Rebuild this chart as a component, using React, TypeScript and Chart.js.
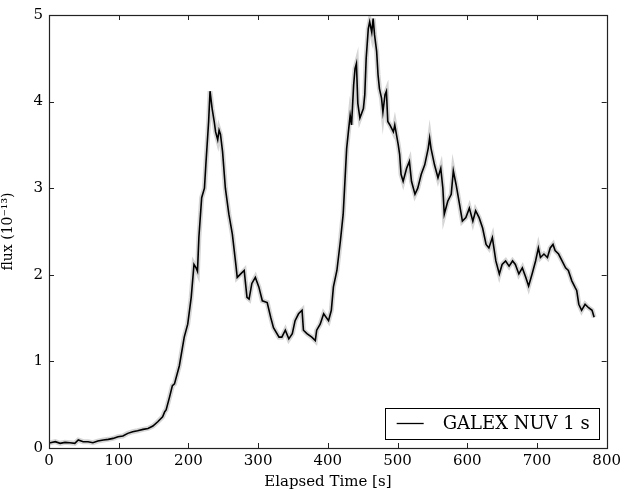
import React, { useEffect, useRef } from "react";
import { Chart, registerables } from "chart.js";

Chart.register(...registerables);

const times = [
  0, 2, 9, 16, 23, 30, 37, 42, 49, 56, 63, 70, 78, 85, 92, 99, 106, 113, 120, 127, 135, 142, 149, 156, 163, 166, 168,
  173, 177, 180, 187, 194, 199, 204, 208, 211, 213, 215, 219, 223, 225, 229, 231, 234, 237, 239, 242, 244, 246, 249,
  253, 258, 263, 268, 270, 275, 280, 284, 287, 291, 296, 301, 306, 313, 318, 322, 330, 334, 339, 344, 349, 353, 358,
  363, 365, 370, 377, 382, 384, 389, 394, 401, 405, 408, 413, 418, 422, 427, 430, 432, 434, 437, 439, 441, 443, 446,
  451, 453, 455, 458, 460, 463, 465, 467, 470, 472, 474, 477, 479, 482, 484, 486, 489, 494, 496, 501, 503, 505, 508,
  513, 517, 520, 525, 529, 534, 539, 544, 546, 548, 553, 558, 562, 565, 567, 572, 577, 580, 584, 589, 593, 598, 603,
  608, 612, 617, 622, 627, 631, 636, 641, 646, 650, 655, 660, 665, 669, 674, 679, 684, 688, 693, 698, 702, 705, 710,
  715, 719, 723, 726, 731, 736, 741, 745, 750, 755, 757, 760, 764, 769, 774, 779, 782,
];

const flux = [
  0.06, 0.061, 0.073, 0.054, 0.065, 0.061, 0.054, 0.092, 0.073, 0.073, 0.061, 0.08, 0.092, 0.1, 0.111, 0.13, 0.138,
  0.169, 0.188, 0.199, 0.215, 0.226, 0.253, 0.303, 0.36, 0.42, 0.44, 0.59, 0.72, 0.74, 0.95, 1.28, 1.43, 1.74, 2.12,
  2.08, 2.04, 2.43, 2.89, 3.0, 3.27, 3.77, 4.12, 3.92, 3.77, 3.65, 3.56, 3.67, 3.62, 3.42, 3.0, 2.7, 2.47, 2.12, 1.97,
  2.01, 2.05, 1.74, 1.72, 1.9, 1.97, 1.86, 1.7, 1.68, 1.51, 1.39, 1.28, 1.28, 1.36, 1.26, 1.32, 1.47, 1.55, 1.59, 1.36,
  1.32, 1.28, 1.24, 1.36, 1.43, 1.55, 1.47, 1.59, 1.86, 2.05, 2.39, 2.7, 3.46, 3.69, 3.84, 3.73, 4.19, 4.38, 4.44,
  3.98, 3.81, 3.92, 4.08, 4.5, 4.84, 4.92, 4.8, 4.96, 4.77, 4.58, 4.31, 4.15, 4.04, 3.88, 4.08, 4.12, 3.77, 3.73, 3.65,
  3.73, 3.5, 3.39, 3.16, 3.08, 3.23, 3.31, 3.08, 2.93, 3.0, 3.16, 3.27, 3.46, 3.58, 3.46, 3.27, 3.12, 3.23, 3.0, 2.7,
  2.85, 2.93, 3.2, 3.04, 2.81, 2.62, 2.66, 2.77, 2.62, 2.74, 2.66, 2.54, 2.35, 2.31, 2.43, 2.16, 2.01, 2.12, 2.16, 2.1,
  2.16, 2.12, 2.01, 2.08, 1.97, 1.87, 2.01, 2.16, 2.31, 2.2, 2.24, 2.2, 2.31, 2.35, 2.28, 2.24, 2.16, 2.08, 2.05, 1.93,
  1.85, 1.82, 1.66, 1.59, 1.66, 1.62, 1.59, 1.51,
];

const xTicks = [0, 100, 200, 300, 400, 500, 600, 700, 800];
const yTicks = [0, 1, 2, 3, 4, 5];
const seriesLabel = "GALEX NUV 1 s";
const xTitle = "Elapsed Time [s]";
const yTitle = "flux (10\u207B\u00B9\u00B3)";

const FONT = "'DejaVu Serif', 'Liberation Serif', serif";

const framePlugin = {
  id: "frameTicks",
  afterDatasetsDraw(chart: any) {
    const { ctx, chartArea } = chart;
    const xs = chart.scales.x;
    const ys = chart.scales.y;
    const L = 5;
    ctx.save();
    ctx.strokeStyle = "#222";
    ctx.lineWidth = 1;
    ctx.beginPath();
    xTicks.forEach((v) => {
      const px = Math.round(xs.getPixelForValue(v)) + 0.5;
      ctx.moveTo(px, chartArea.bottom);
      ctx.lineTo(px, chartArea.bottom - L);
      ctx.moveTo(px, chartArea.top);
      ctx.lineTo(px, chartArea.top + L);
    });
    yTicks.forEach((v) => {
      const py = Math.round(ys.getPixelForValue(v)) + 0.5;
      ctx.moveTo(chartArea.left, py);
      ctx.lineTo(chartArea.left + L, py);
      ctx.moveTo(chartArea.right, py);
      ctx.lineTo(chartArea.right - L, py);
    });
    ctx.stroke();
    ctx.lineWidth = 1.2;
    ctx.strokeRect(
      Math.round(chartArea.left) + 0.5,
      Math.round(chartArea.top) + 0.5,
      Math.round(chartArea.right - chartArea.left),
      Math.round(chartArea.bottom - chartArea.top)
    );

    // legend box
    const bx1 = chartArea.right - 8;
    const by1 = chartArea.bottom - 9;
    const bx0 = bx1 - 214;
    const by0 = by1 - 31;
    ctx.fillStyle = "#fff";
    ctx.fillRect(bx0, by0, bx1 - bx0, by1 - by0);
    ctx.strokeStyle = "#000";
    ctx.lineWidth = 1;
    ctx.strokeRect(Math.round(bx0) + 0.5, Math.round(by0) + 0.5, Math.round(bx1 - bx0), Math.round(by1 - by0));
    const cy = (by0 + by1) / 2;
    ctx.beginPath();
    ctx.lineWidth = 1.3;
    ctx.moveTo(bx0 + 12, cy);
    ctx.lineTo(bx0 + 39, cy);
    ctx.stroke();
    ctx.fillStyle = "#000";
    ctx.font = `18px ${FONT}`;
    ctx.textBaseline = "middle";
    ctx.textAlign = "left";
    ctx.fillText(seriesLabel, bx0 + 58, cy + 1);
    ctx.restore();
  },
};

export default function App() {
  const ref = useRef<HTMLCanvasElement | null>(null);
  useEffect(() => {
    if (!ref.current) return;
    const pts = times.map((t, i) => ({ x: t, y: flux[i] }));
    const chart = new Chart(ref.current, {
      type: "line",
      data: {
        datasets: [
          {
            label: seriesLabel,
            data: pts,
            borderColor: "#000",
            borderWidth: 1.6,
            tension: 0,
            pointRadius: 0,
            fill: false,
            order: 0,
          },
          {
            label: "err",
            data: pts,
            borderColor: "#d6d6d6",
            borderWidth: 5,
            tension: 0,
            pointRadius: 0,
            fill: false,
            order: 1,
          },
        ],
      },
      options: {
        animation: false,
        responsive: false,
        maintainAspectRatio: false,
        layout: { padding: { top: 13, right: 15, left: 0, bottom: 0 } },
        plugins: { legend: { display: false }, tooltip: { enabled: false } },
        scales: {
          x: {
            type: "linear",
            min: 0,
            max: 800,
            afterBuildTicks: (s: any) => {
              s.ticks = xTicks.map((v) => ({ value: v }));
            },
            afterFit: (s: any) => {
              s.height = 43;
            },
            grid: { display: false, drawTicks: false },
            border: { display: false },
            ticks: { color: "#000", font: { family: FONT, size: 15 }, padding: 4, maxRotation: 0 },
            title: {
              display: true,
              text: xTitle,
              color: "#000",
              font: { family: FONT, size: 15 },
              padding: { top: 1, bottom: 0 },
            },
          },
          y: {
            min: 0,
            max: 5,
            afterBuildTicks: (s: any) => {
              s.ticks = yTicks.map((v) => ({ value: v }));
            },
            afterFit: (s: any) => {
              s.width = 49;
            },
            grid: { display: false, drawTicks: false },
            border: { display: false },
            ticks: { color: "#000", font: { family: FONT, size: 15 }, padding: 6 },
            title: {
              display: true,
              text: yTitle,
              color: "#000",
              font: { family: FONT, size: 14 },
              padding: { top: 0, bottom: 0 },
            },
          },
        },
      },
      plugins: [framePlugin],
    });
    return () => chart.destroy();
  }, []);
  return (
    <div style={{ position: "fixed", left: 0, top: 0, width: 625, height: 491, background: "#fff" }}>
      <canvas ref={ref} width={625} height={491} style={{ width: 625, height: 491 }} />
    </div>
  );
}
